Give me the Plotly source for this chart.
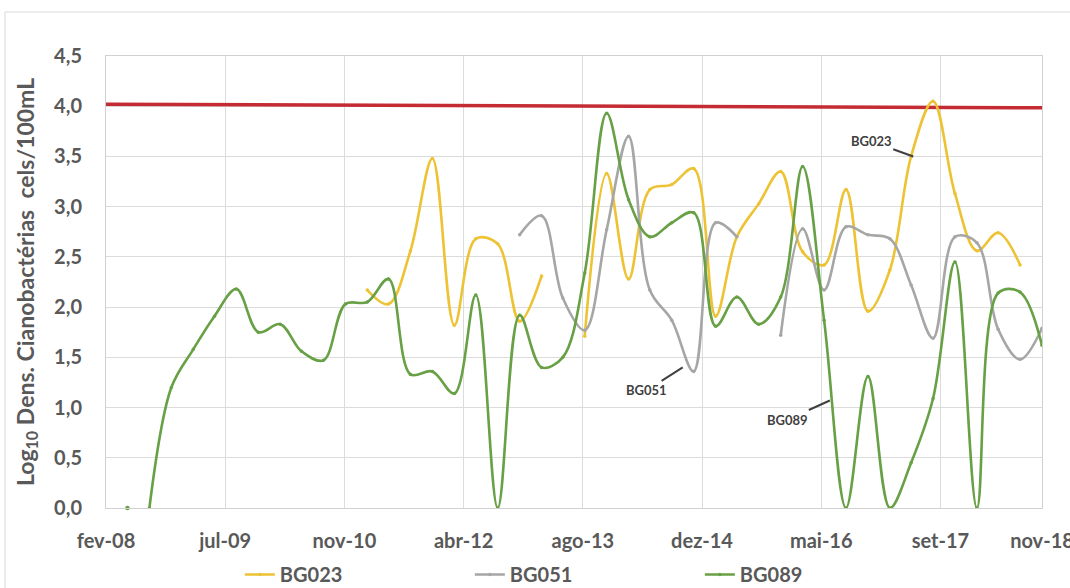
import pandas as pd
import plotly.graph_objects as go

# Quarterly sampling dates (May 2008 - Nov 2018)
dates = pd.date_range("2008-05-01", periods=43, freq="3MS")

N = None
bg023 = [N, N, N, N, N, N, N, N, N, N, N,
         2.17, 2.03, 2.56, 3.48, 1.82, 2.68, 2.63, 1.86, 2.31, N,
         1.71, 3.33, 2.28, 3.17, 3.22, 3.38, 1.91, 2.70, 3.03, 3.35,
         2.55, 2.42, 3.17, 1.96, 2.37, 3.50, 4.05, 3.13, 2.56, 2.74,
         2.42, N]
bg051 = [N, N, N, N, N, N, N, N, N, N, N, N, N, N, N, N, N, N,
         2.72, 2.91, 2.09, 1.77, 2.77, 3.70, 2.17, 1.87, 1.36, 2.84,
         2.70, N, 1.72, 2.78, 2.17, 2.80, 2.72, 2.68, 2.22, 1.69,
         2.70, 2.64, 1.78, 1.48, 1.79]
bg089 = [0.00, 0.00, 1.20, 1.58, 1.91, 2.18, 1.75, 1.83, 1.56, 1.47,
         2.03, 2.05, 2.28, 1.33, 1.36, 1.14, 2.12, 0.00, 1.92, 1.40,
         1.50, 2.34, 3.93, 3.07, 2.70, 2.84, 2.94, 1.81, 2.10, 1.83,
         2.10, 3.40, 1.87, 0.00, 1.31, 0.00, 0.45, 1.09, 2.45, 0.00,
         2.14, 2.15, 1.62]

# Reference limit line (log10 density)
limit_dates = ["2008-02-01", "2018-11-01"]
limit_values = [4.02, 3.985]

# X-axis ticks
tick_dates = list(pd.date_range("2008-02-01", periods=8, freq="500D")) + [pd.Timestamp("2018-11-01")]
tick_labels = ["fev-08", "jul-09", "nov-10", "abr-12", "ago-13",
               "dez-14", "mai-16", "set-17", "nov-18"]

C023 = "#EDC233"
C051 = "#A6A6A6"
C089 = "#67A045"
TXT = "#595959"
GRID = "#DCDCDC"
FONT = "Lato"
CLEAR = "rgba(0,0,0,0)"

fig = go.Figure()

fig.add_trace(go.Scatter(
    x=limit_dates, y=limit_values, mode="lines",
    line=dict(color="#C42B33", width=3.5), showlegend=False, hoverinfo="skip"))

series = [("BG023", bg023, C023), ("BG051", bg051, C051), ("BG089", bg089, C089)]
for name, vals, col in series:
    if name == "BG089":
        # first sample stands alone (no connection to the next one)
        fig.add_trace(go.Scatter(
            x=dates[:1], y=vals[:1], mode="markers", cliponaxis=False,
            marker=dict(color=col, size=4.5), showlegend=False, legendgroup=name))
        xs, ys = dates[1:], vals[1:]
    else:
        xs, ys = dates, vals
    fig.add_trace(go.Scatter(
        x=xs, y=ys, name=name, mode="lines+markers",
        line=dict(color=col, width=2.6, shape="spline", smoothing=1.0),
        marker=dict(color=col, size=3.5),
        connectgaps=False, legendgroup=name))

# Series callouts
callouts = [("BG023", "2017-05-10", 3.50, -42, -15),
            ("BG051", "2014-09-16", 1.40, -36, 23),
            ("BG089", "2016-05-25", 1.07, -42, 19)]
for text, xd, yv, ax, ay in callouts:
    fig.add_annotation(
        x=xd, y=yv, text=text, showarrow=True, arrowhead=0, arrowwidth=2,
        arrowcolor="#404040", ax=ax, ay=ay,
        font=dict(family=FONT, size=13, color="#404040", weight="bold"))

fig.update_layout(
    width=1070, height=588,
    margin=dict(l=106, r=28, t=56, b=80, autoexpand=False),
    paper_bgcolor="white", plot_bgcolor="white",
    separators=",.",
    font=dict(family=FONT, color=TXT),
    showlegend=True,
    legend=dict(orientation="h", x=0.143, xanchor="left", y=-0.147, yanchor="middle",
                entrywidth=185, entrywidthmode="pixels", itemwidth=30,
                bgcolor=CLEAR,
                font=dict(family=FONT, size=20, color=TXT, weight="bold")),
    shapes=[dict(type="rect", xref="paper", yref="paper",
                 x0=-0.1079, x1=1.2, y0=-0.4, y1=1.0973,
                 line=dict(color="#D9D9D9", width=1), fillcolor=CLEAR,
                 layer="below")],
)

fig.update_xaxes(
    type="date", range=["2008-02-01", "2018-11-01"], automargin=False,
    tickmode="array", tickvals=tick_dates, ticktext=tick_labels,
    ticklabeloverflow="allow",
    showgrid=True, gridcolor=GRID, gridwidth=1,
    showline=True, linecolor="#D0D0D0", mirror=True, zeroline=False,
    ticks="outside", ticklen=15, tickcolor=CLEAR,
    tickfont=dict(family=FONT, size=20, color=TXT, weight="bold"))

fig.update_yaxes(
    range=[0, 4.5], dtick=0.5, tickformat=".1f", automargin=False,
    showgrid=True, gridcolor=GRID, gridwidth=1,
    showline=True, linecolor="#D0D0D0", mirror=True, zeroline=False,
    ticks="outside", ticklen=19, tickcolor=CLEAR,
    tickfont=dict(family=FONT, size=20, color=TXT, weight="bold"),
    title=dict(text="Log<sub>10</sub> Dens. Cianobactérias  cels/100mL",
               font=dict(family=FONT, size=23, color=TXT, weight="bold"),
               standoff=13))

fig.write_html("out.html")
